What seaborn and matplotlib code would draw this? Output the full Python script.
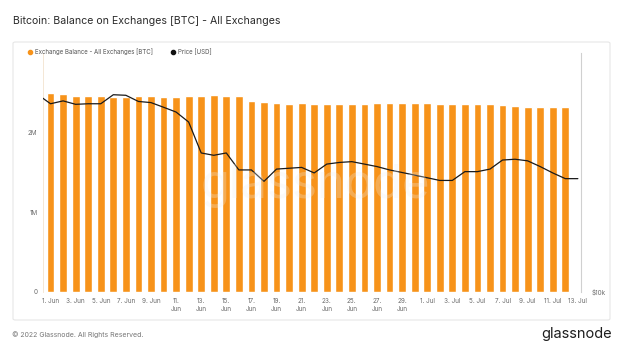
import matplotlib
matplotlib.use("Agg")
import matplotlib.pyplot as plt
from matplotlib.patches import FancyBboxPatch
from matplotlib.ticker import FixedLocator, NullLocator
import numpy as np
import pandas as pd
import seaborn as sns

#%% Data
# exchange balance, BTC (millions), one bar per day 1 Jun .. 12 Jul 2022
balance_m = [2.493, 2.484, 2.459, 2.459, 2.455, 2.443, 2.447, 2.455, 2.455, 2.443,
             2.443, 2.459, 2.455, 2.472, 2.459, 2.455, 2.400, 2.380, 2.367, 2.363,
             2.367, 2.363, 2.363, 2.355, 2.355, 2.355, 2.375, 2.367, 2.367, 2.367,
             2.367, 2.363, 2.363, 2.355, 2.359, 2.355, 2.342, 2.338, 2.326, 2.326,
             2.321, 2.326]

# price, USD, 31 May .. 13 Jul 2022
price_usd = [31400, 29800, 30300, 29700, 29800, 29800, 31400, 31300, 30200, 30000,
             29200, 28400, 26800, 22400, 22100, 22400, 20300, 20300, 19000, 20400,
             20500, 20600, 19950, 21000, 21200, 21300, 21000, 20700, 20300, 20000,
             19700, 19400, 19100, 19100, 20100, 20100, 20400, 21500, 21600, 21400,
             20700, 19950, 19300, 19300]

tick_labels = ['1. Jun', '3. Jun', '5. Jun', '7. Jun', '9. Jun', '11.\nJun', '13.\nJun',
               '15.\nJun', '17.\nJun', '19.\nJun', '21.\nJun', '23.\nJun', '25.\nJun',
               '27.\nJun', '29.\nJun', '1. Jul', '3. Jul', '5. Jul', '7. Jul', '9. Jul',
               '11. Jul', '13. Jul']

bars = pd.DataFrame({'day': np.arange(len(balance_m)), 'balance': np.array(balance_m) * 1e6})
price = pd.DataFrame({'day': np.arange(-1, len(price_usd) - 1), 'price': price_usd})

#%% Figure
sns.set_style("white")
plt.rcParams['font.family'] = ['Inter', 'DejaVu Sans']

orange = '#F7931A'
grey_txt = '#6b6b6b'

fig = plt.figure(figsize=(6.24, 3.51), dpi=100)
fig.patch.set_facecolor('white')

# card behind the chart
card = FancyBboxPatch((13 / 624, 1 - 320 / 351), 597 / 624, 278 / 351,
                      boxstyle="round,pad=0,rounding_size=0.004", transform=fig.transFigure,
                      facecolor='white', edgecolor='#e6e6e6', linewidth=0.8, zorder=-5)
fig.patches.append(card)

ax = fig.add_axes([43 / 624, 1 - 292 / 351, (581 - 43) / 624, (292 - 53) / 351])
ax.set_facecolor('none')

sns.barplot(data=bars, x='day', y='balance', native_scale=True, color=orange,
            saturation=1, width=0.62, ax=ax, zorder=2)

ax2 = ax.twinx()
sns.lineplot(data=price, x='day', y='price', color='#1a1a1a', linewidth=0.9, ax=ax2)
ax2.set_yscale('log')
ax2.set_ylim(10000, 40000)

ax.set_xlim(-0.6, 42.25)
ax.set_ylim(0, 3.0e6)

ax.set_xticks(np.arange(0, 43, 2))
ax.set_xticklabels(tick_labels, fontsize=4.6, color=grey_txt, linespacing=1.5)
ax.set_yticks([0, 1e6, 2e6])
ax.set_yticklabels(['0', '1M', '2M'], fontsize=4.6, color=grey_txt)
ax.tick_params(axis='both', length=0, pad=4)
ax.set_xlabel('')
ax.set_ylabel('')

ax2.yaxis.set_major_locator(FixedLocator([10000]))
ax2.yaxis.set_minor_locator(NullLocator())
ax2.set_yticklabels(['$10k'], fontsize=4.6, color=grey_txt)
ax2.tick_params(axis='y', length=0, pad=8)
ax2.set_ylabel('')
ax2.set_xlabel('')

for a in (ax, ax2):
    for s in a.spines.values():
        s.set_visible(False)
ax.spines['left'].set_visible(True)
ax.spines['left'].set_color('#f3e3cf')
ax.spines['left'].set_linewidth(0.6)
ax2.spines['right'].set_visible(True)
ax2.spines['right'].set_color('#d0d0d0')
ax2.spines['right'].set_linewidth(0.8)

# faint watermark over the bars
fig.text(0.505, 0.47, 'glassnode', fontsize=34, color='#eeeeee', alpha=0.28,
         ha='center', va='center', zorder=5)

# title, legend, footer
fig.text(13 / 624, 1 - 21 / 351, 'Bitcoin: Balance on Exchanges [BTC] - All Exchanges',
         fontsize=7.6, color='#2b2b2b', va='center', ha='left')

fig.lines.append(plt.Line2D([30 / 624], [1 - 51.7 / 351], marker='o', markersize=3,
                            color=orange, transform=fig.transFigure))
fig.text(35 / 624, 1 - 51.7 / 351, 'Exchange Balance - All Exchanges [BTC]',
         fontsize=4.4, color='#555555', va='center')
fig.lines.append(plt.Line2D([172.7 / 624], [1 - 51.7 / 351], marker='o', markersize=3,
                            color='#111111', transform=fig.transFigure))
fig.text(178 / 624, 1 - 51.7 / 351, 'Price [USD]', fontsize=4.4, color='#555555', va='center')

fig.text(12 / 624, 1 - 335 / 351, '\u00a9 2022 Glassnode. All Rights Reserved.',
         fontsize=5, color='#777777', va='center')
fig.text(612 / 624, 1 - 334 / 351, 'glassnode', fontsize=10.5, color='#1e1e1e',
         va='center', ha='right')

fig.savefig('out.png', dpi=100)
